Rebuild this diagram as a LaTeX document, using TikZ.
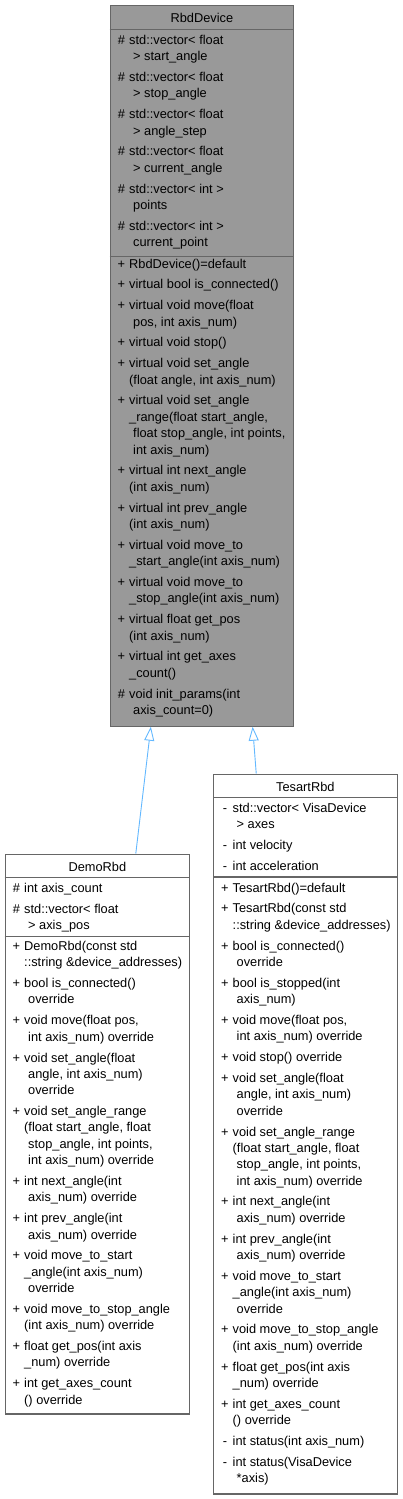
\documentclass[tikz,border=0pt]{standalone}
\usepackage{fontspec}
\setmainfont{Liberation Sans}
\usetikzlibrary{arrows.meta,calc}
\definecolor{boxline}{HTML}{666666}
\definecolor{basefill}{HTML}{999999}
\definecolor{edgeblue}{HTML}{63B8FF}
\newcommand{\membfont}{\fontsize{12.8}{16.35}\selectfont}
\newcommand{\mk}[1]{\strut\makebox[15.5pt][c]{#1}}
\newcommand{\ind}{\mk{}}
\newcommand{\indsp}{\mk{}\hspace*{4pt}}
\begin{document}
\begin{tikzpicture}[x=1pt, y=-1pt,
  classbox/.style={draw=boxline, line width=1.2pt, fill=white,
    anchor=north west, inner sep=0pt},
  basebox/.style={classbox, fill=basefill},
  sepline/.style={draw=boxline, line width=1.2pt},
  heading/.style={font=\membfont, inner sep=0pt, anchor=base},
  membs/.style={font=\membfont, inner sep=0pt, anchor=north west, align=left},
  inherit/.style={draw=edgeblue, line width=0.9pt,
    -{Triangle[open, length=14pt, width=10pt]}}]
  \useasboundingbox (0,0) rectangle (403,1499);

  % class boxes
  \node[basebox, minimum width=183.5pt, minimum height=721pt] (RbdDevice) at (109.5,4.5) {};
  \node[classbox, minimum width=184.5pt, minimum height=559.8pt] (DemoRbd) at (4.5,853.5) {};
  \node[classbox, minimum width=183.5pt, minimum height=719.8pt] (TesartRbd) at (213,773.5) {};

  % compartments
  \draw[sepline] ([yshift=-24.8pt]RbdDevice.north west) -- ([yshift=-24.8pt]RbdDevice.north east);
  \draw[sepline] ([yshift=-252.2pt]RbdDevice.north west) -- ([yshift=-252.2pt]RbdDevice.north east);
  \draw[sepline] ([yshift=-23.8pt]DemoRbd.north west) -- ([yshift=-23.8pt]DemoRbd.north east);
  \draw[sepline] ([yshift=-83.2pt]DemoRbd.north west) -- ([yshift=-83.2pt]DemoRbd.north east);
  \draw[sepline] ([yshift=-23.8pt]TesartRbd.north west) -- ([yshift=-23.8pt]TesartRbd.north east);
  \draw[sepline] ([yshift=-103.5pt]TesartRbd.north west) -- ([yshift=-103.5pt]TesartRbd.north east);

  % RbdDevice
  \node[heading] (RbdDeviceName) at ([yshift=-17.8pt]RbdDevice.north) {RbdDevice};
  \node[membs] (RbdDeviceAttr) at ([xshift=4pt, yshift=-28.25pt]RbdDevice.north west) {%
    \mk{\#}std::vector< float\\ \indsp> start\_angle\\[4.5pt]
    \mk{\#}std::vector< float\\ \indsp> stop\_angle\\[4.5pt]
    \mk{\#}std::vector< float\\ \indsp> angle\_step\\[4.5pt]
    \mk{\#}std::vector< float\\ \indsp> current\_angle\\[4.5pt]
    \mk{\#}std::vector< int >\\ \indsp points\\[4.5pt]
    \mk{\#}std::vector< int >\\ \indsp current\_point};
  \node[membs] (RbdDeviceOps) at ([xshift=4pt, yshift=-251.85pt]RbdDevice.north west) {%
    \mk{+}RbdDevice()=default\\[4.5pt]
    \mk{+}virtual bool is\_connected()\\[4.5pt]
    \mk{+}virtual void move(float\\ \indsp pos, int axis\_num)\\[4.5pt]
    \mk{+}virtual void stop()\\[4.5pt]
    \mk{+}virtual void set\_angle\\ \ind(float angle, int axis\_num)\\[4.5pt]
    \mk{+}virtual void set\_angle\\ \ind\_range(float start\_angle,\\
      \indsp float stop\_angle, int points,\\ \indsp int axis\_num)\\[4.5pt]
    \mk{+}virtual int next\_angle\\ \ind(int axis\_num)\\[4.5pt]
    \mk{+}virtual int prev\_angle\\ \ind(int axis\_num)\\[4.5pt]
    \mk{+}virtual void move\_to\\ \ind\_start\_angle(int axis\_num)\\[4.5pt]
    \mk{+}virtual void move\_to\\ \ind\_stop\_angle(int axis\_num)\\[4.5pt]
    \mk{+}virtual float get\_pos\\ \ind(int axis\_num)\\[4.5pt]
    \mk{+}virtual int get\_axes\\ \ind\_count()\\[4.5pt]
    \mk{\#}void init\_params(int\\ \indsp axis\_count=0)};

  % DemoRbd
  \node[heading] (DemoRbdName) at ([yshift=-17.8pt]DemoRbd.north) {DemoRbd};
  \node[membs] (DemoRbdAttr) at ([xshift=4pt, yshift=-27.5pt]DemoRbd.north west) {%
    \mk{\#}int axis\_count\\[4.5pt]
    \mk{\#}std::vector< float\\ \indsp> axis\_pos};
  \node[membs] (DemoRbdOps) at ([xshift=4pt, yshift=-85.25pt]DemoRbd.north west) {%
    \mk{+}DemoRbd(const std\\ \ind::string \&device\_addresses)\\[4.5pt]
    \mk{+}bool is\_connected()\\ \indsp override\\[4.5pt]
    \mk{+}void move(float pos,\\ \indsp int axis\_num) override\\[4.5pt]
    \mk{+}void set\_angle(float\\ \indsp angle, int axis\_num)\\ \indsp override\\[4.5pt]
    \mk{+}void set\_angle\_range\\ \ind(float start\_angle, float\\
      \indsp stop\_angle, int points,\\ \indsp int axis\_num) override\\[4.5pt]
    \mk{+}int next\_angle(int\\ \indsp axis\_num) override\\[4.5pt]
    \mk{+}int prev\_angle(int\\ \indsp axis\_num) override\\[4.5pt]
    \mk{+}void move\_to\_start\\ \ind\_angle(int axis\_num)\\ \indsp override\\[4.5pt]
    \mk{+}void move\_to\_stop\_angle\\ \ind(int axis\_num) override\\[4.5pt]
    \mk{+}float get\_pos(int axis\\ \ind\_num) override\\[4.5pt]
    \mk{+}int get\_axes\_count\\ \ind() override};

  % TesartRbd
  \node[heading] (TesartRbdName) at ([yshift=-17.8pt]TesartRbd.north) {TesartRbd};
  \node[membs] (TesartRbdAttr) at ([xshift=4pt, yshift=-26.85pt]TesartRbd.north west) {%
    \mk{-}std::vector< VisaDevice\\ \indsp> axes\\[4.5pt]
    \mk{-}int velocity\\[4.5pt]
    \mk{-}int acceleration};
  \node[membs] (TesartRbdOps) at ([xshift=4pt, yshift=-106.85pt]TesartRbd.north west) {%
    \mk{+}TesartRbd()=default\\[4.5pt]
    \mk{+}TesartRbd(const std\\ \ind::string \&device\_addresses)\\[4.5pt]
    \mk{+}bool is\_connected()\\ \indsp override\\[4.5pt]
    \mk{+}bool is\_stopped(int\\ \indsp axis\_num)\\[4.5pt]
    \mk{+}void move(float pos,\\ \indsp int axis\_num) override\\[4.5pt]
    \mk{+}void stop() override\\[4.5pt]
    \mk{+}void set\_angle(float\\ \indsp angle, int axis\_num)\\ \indsp override\\[4.5pt]
    \mk{+}void set\_angle\_range\\ \ind(float start\_angle, float\\
      \indsp stop\_angle, int points,\\ \indsp int axis\_num) override\\[4.5pt]
    \mk{+}int next\_angle(int\\ \indsp axis\_num) override\\[4.5pt]
    \mk{+}int prev\_angle(int\\ \indsp axis\_num) override\\[4.5pt]
    \mk{+}void move\_to\_start\\ \ind\_angle(int axis\_num)\\ \indsp override\\[4.5pt]
    \mk{+}void move\_to\_stop\_angle\\ \ind(int axis\_num) override\\[4.5pt]
    \mk{+}float get\_pos(int axis\\ \ind\_num) override\\[4.5pt]
    \mk{+}int get\_axes\_count\\ \ind() override\\[4.5pt]
    \mk{-}int status(int axis\_num)\\[4.5pt]
    \mk{-}int status(VisaDevice\\ \indsp *axis)};

  % inheritance
  \draw[inherit] ($(DemoRbd.north west)!0.707!(DemoRbd.north east)$)
    -- ($(RbdDevice.south west)!0.224!(RbdDevice.south east)$);
  \draw[inherit] ($(TesartRbd.north west)!0.234!(TesartRbd.north east)$)
    -- ($(RbdDevice.south west)!0.775!(RbdDevice.south east)$);
\end{tikzpicture}
\end{document}
